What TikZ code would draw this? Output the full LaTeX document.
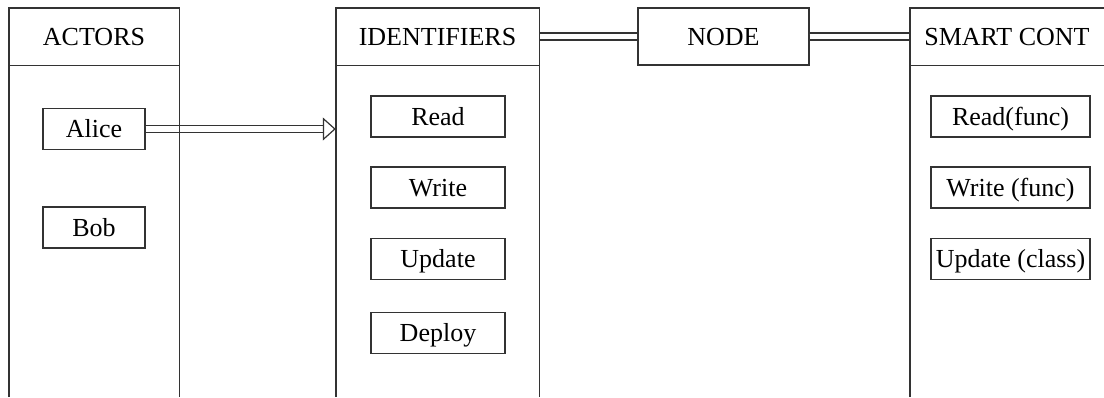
\documentclass[tikz,border=0pt]{standalone}
\usepackage{fontspec}
\setmainfont{Liberation Serif}
\usetikzlibrary{arrows.meta}
\begin{document}
\begin{tikzpicture}[x=1pt,y=-1pt,
  font=\fontsize{26}{30}\selectfont,
  frame/.style={draw=black!80, line width=1.4pt},
  txt/.style={inner sep=0pt, text height=17pt, text depth=0pt},
  item/.style={txt, frame, rectangle, minimum height=41pt},
  colhead/.style={txt, minimum height=57pt},
  dbl/.style={draw=black!80, line width=1.4pt, double=white, double distance=5.4pt}]
\useasboundingbox (0,0) rectangle (1104,397);

% column headers
\node[colhead, minimum width=170pt] (acth) at (94,36.5) {ACTORS};
\node[colhead, minimum width=203pt] (idh) at (437.5,36.5) {IDENTIFIERS};
\node[colhead, minimum width=194pt] (smh) at (1007,36.5) {SMART CONT};
\node[item, minimum width=171pt, minimum height=57pt] (nodebox) at (723.5,36.5) {NODE};

% actors
\node[item, minimum width=102pt] (alice) at (94,129) {Alice};
\node[item, minimum width=102pt] (bob) at (94,227.5) {Bob};

% identifiers
\node[item, minimum width=134pt] (idread) at (438,116.5) {Read};
\node[item, minimum width=134pt] (idwrite) at (438,187.5) {Write};
\node[item, minimum width=134pt] (idupdate) at (438,259) {Update};
\node[item, minimum width=134pt] (iddeploy) at (438,333) {Deploy};

% smart contract members
\node[item, minimum width=159pt] (scread) at (1010.5,116.5) {Read(func)};
\node[item, minimum width=159pt] (scwrite) at (1010.5,187.5) {Write (func)};
\node[item, minimum width=159pt] (scupdate) at (1010.5,259) {Update (class)};

% connectors
\coordinate (tip) at (alice.east -| idh.west);
\draw[dbl, shorten >=13pt] (alice.east) -- (tip);
\draw[frame, line width=1.2pt, -{Triangle[open, length=13pt, width=23pt]}] ([xshift=-13pt]tip) -- (tip);
\draw[dbl] (idh.east) -- (nodebox.west);
\draw[dbl] (nodebox.east) -- (smh.west);

% column frames (open at the bottom)
\draw[frame] (acth.west |- 0,397) -- (acth.north west) -- (acth.north east) -- (acth.east |- 0,397);
\draw[frame] (acth.south west) -- (acth.south east);
\draw[frame] (idh.west |- 0,397) -- (idh.north west) -- (idh.north east) -- (idh.east |- 0,397);
\draw[frame] (idh.south west) -- (idh.south east);
\draw[frame] (smh.west |- 0,397) -- (smh.north west) -- (smh.north east);
\draw[frame] (smh.south west) -- (smh.south east);
\end{tikzpicture}
\end{document}
